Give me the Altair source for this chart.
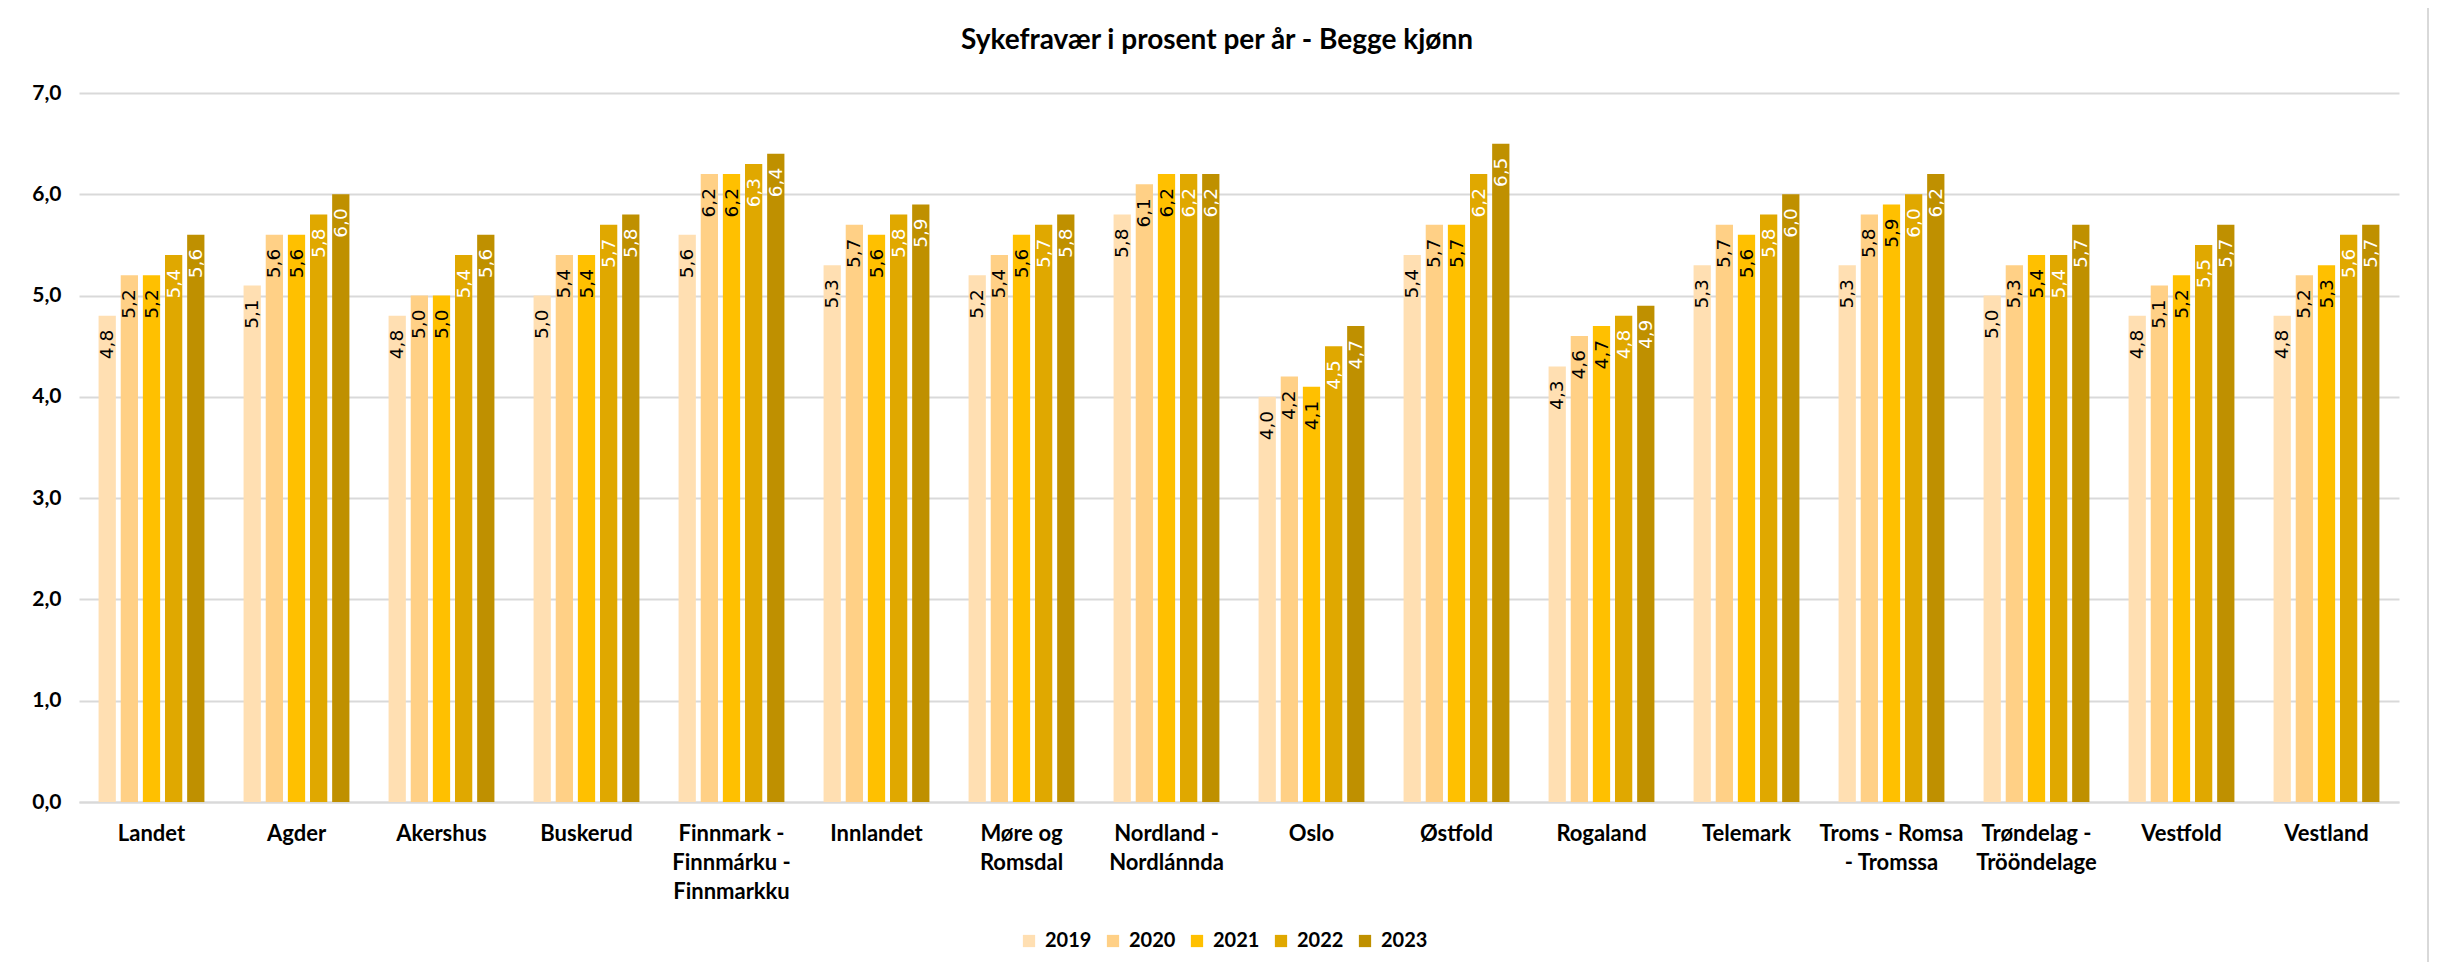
import altair as alt
import pandas as pd

regions = ["Landet", "Agder", "Akershus", "Buskerud", "Finnmark - Finnmárku - Finnmarkku",
           "Innlandet", "Møre og Romsdal", "Nordland - Nordlánnda", "Oslo", "Østfold",
           "Rogaland", "Telemark", "Troms - Romsa - Tromssa", "Trøndelag - Trööndelage",
           "Vestfold", "Vestland"]
years = ["2019", "2020", "2021", "2022", "2023"]
v2019 = [4.8, 5.1, 4.8, 5.0, 5.6, 5.3, 5.2, 5.8, 4.0, 5.4, 4.3, 5.3, 5.3, 5.0, 4.8, 4.8]
v2020 = [5.2, 5.6, 5.0, 5.4, 6.2, 5.7, 5.4, 6.1, 4.2, 5.7, 4.6, 5.7, 5.8, 5.3, 5.1, 5.2]
v2021 = [5.2, 5.6, 5.0, 5.4, 6.2, 5.6, 5.6, 6.2, 4.1, 5.7, 4.7, 5.6, 5.9, 5.4, 5.2, 5.3]
v2022 = [5.4, 5.8, 5.4, 5.7, 6.3, 5.8, 5.7, 6.2, 4.5, 6.2, 4.8, 5.8, 6.0, 5.4, 5.5, 5.6]
v2023 = [5.6, 6.0, 5.6, 5.8, 6.4, 5.9, 5.8, 6.2, 4.7, 6.5, 4.9, 6.0, 6.2, 5.7, 5.7, 5.7]
colors = ["#FFDFB2", "#FFD086", "#FFC000", "#E0A800", "#BF9000"]
label_colors = ["black", "black", "black", "white", "white"]
wrapped = {
    "Finnmark - Finnmárku - Finnmarkku": ["Finnmark -", "Finnmárku -", "Finnmarkku"],
    "Møre og Romsdal": ["Møre og", "Romsdal"],
    "Nordland - Nordlánnda": ["Nordland -", "Nordlánnda"],
    "Troms - Romsa - Tromssa": ["Troms - Romsa", "- Tromssa"],
    "Trøndelag - Trööndelage": ["Trøndelag -", "Trööndelage"],
}

rows = []
for series, yr, lc in zip([v2019, v2020, v2021, v2022, v2023], years, label_colors):
    for reg, val in zip(regions, series):
        rows.append({"region": reg, "year": yr, "value": val, "lc": lc})
df = pd.DataFrame(rows)

label_expr = "datum.label"
for k, lines in wrapped.items():
    arr = "[" + ",".join("'" + s + "'" for s in lines) + "]"
    label_expr = f"datum.label == '{k}' ? {arr} : ({label_expr})"

FONT = "Lato"
x_enc = alt.X("region:N", sort=regions, title=None,
              scale=alt.Scale(paddingInner=0.27, paddingOuter=0.135),
              axis=alt.Axis(labelAngle=0, labelFont=FONT, labelFontWeight="bold",
                            labelFontSize=22, labelColor="#000000", labelPadding=21,
                            labelLineHeight=29, labelExpr=label_expr, ticks=False,
                            domainColor="#D9D9D9", domainWidth=2, grid=False,
                            labelBaseline="top"))
xo = alt.XOffset("year:N", sort=years, scale=alt.Scale(paddingInner=0.22, paddingOuter=0))
y_enc = alt.Y("value:Q", title=None,
              scale=alt.Scale(domain=[0, 7], nice=False, zero=True),
              axis=alt.Axis(values=[0, 1, 2, 3, 4, 5, 6, 7], domain=False, ticks=False,
                            gridColor="#D9D9D9", gridWidth=2,
                            labelExpr="replace(format(datum.value, '.1f'), '.', ',')",
                            labelFont=FONT, labelFontWeight="bold", labelFontSize=21,
                            labelColor="#000000", labelPadding=18))

base = alt.Chart(df)
bars = base.mark_bar().encode(
    x=x_enc, xOffset=xo, y=y_enc,
    color=alt.Color("year:N", sort=years, title=None,
                    scale=alt.Scale(domain=years, range=colors),
                    legend=alt.Legend(orient="none", direction="horizontal",
                                      legendX=940, legendY=838, symbolType="square",
                                      symbolSize=150, symbolStrokeWidth=0,
                                      labelFont=FONT, labelFontWeight="bold",
                                      labelFontSize=20, labelColor="#000000",
                                      columnPadding=11, labelOffset=6)),
)
texts = base.mark_text(angle=270, align="right", baseline="middle", dx=-14,
                       font="DejaVu Sans", fontSize=18.5).encode(
    x=alt.X("region:N", sort=regions), xOffset=alt.XOffset("year:N", sort=years),
    y="value:Q",
    text=alt.Text("label:N"),
    color=alt.Color("lc:N", scale=None),
).transform_calculate(label="replace(format(datum.value, '.1f'), '.', ',')")

frame = alt.Chart(pd.DataFrame({"a": [0]})).mark_rect(
    fill=None, stroke="#D9D9D9", strokeWidth=2, clip=False).encode(
    x=alt.value(-74), x2=alt.value(2349), y=alt.value(-90), y2=alt.value(900))

chart = alt.layer(frame, bars, texts).properties(
    width=2320, height=709,
    title=alt.TitleParams("Sykefravær i prosent per år - Begge kjønn", font=FONT,
                          fontWeight="bold", fontSize=28, color="#000000",
                          anchor="middle", frame="group", dx=-22, offset=-53),
    autosize=alt.AutoSizeParams(type="none"),
    padding={"left": 71, "top": 85, "right": 30, "bottom": 160},
).configure_view(stroke=None)

chart.save("out.html", embed_options={"renderer": "svg", "actions": False})
